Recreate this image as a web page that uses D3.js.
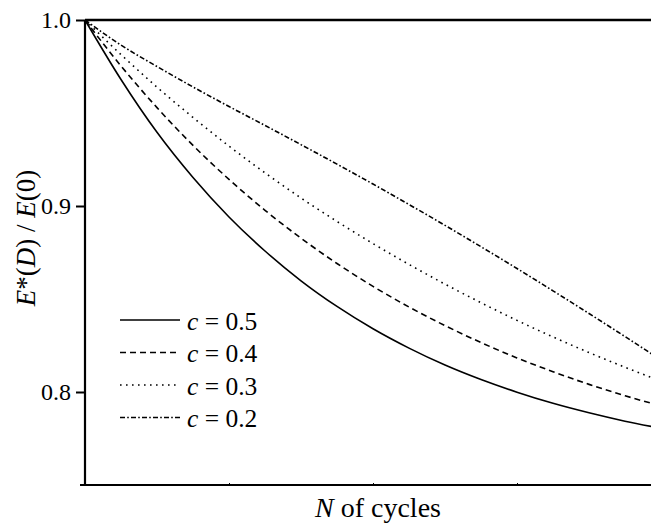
<!DOCTYPE html>
<html><head><meta charset="utf-8">
<script src="https://cdn.jsdelivr.net/npm/d3@7"></script>
<style>
body{margin:0;background:#fff;}
svg{display:block;}
svg text{font-family:"Liberation Serif","Times New Roman",Times,serif !important;fill:#000;}
</style></head>
<body>
<svg id="chart" width="651" height="530"></svg>
<script>
// N (arbitrary units of cycles)
const nValues = [0,0.25,0.5,0.75,1,1.25,1.5,1.75,2,2.25,2.5,2.75,3,3.25,3.5,3.75,4];
const c05 = [1.0,0.968,0.9396,0.9153,0.8941,0.8758,0.8598,0.8460,0.8340,0.8236,0.8145,0.8067,0.7999,0.7939,0.7888,0.7843,0.7805];
const c04 = [1.0,0.9753,0.9529,0.9326,0.9143,0.8977,0.8827,0.8691,0.8568,0.8457,0.8357,0.8266,0.8183,0.8109,0.8041,0.7980,0.7925];
const c03 = [1.0,0.9814,0.9639,0.9476,0.9322,0.9178,0.9043,0.8917,0.8798,0.8686,0.8580,0.8480,0.8385,0.8296,0.8212,0.8133,0.8058];
const c02 = [1.0,0.9865,0.975,0.964,0.9535,0.9433,0.933,0.9225,0.9118,0.9008,0.8896,0.8781,0.8664,0.8544,0.8422,0.8298,0.8172];
const seriesLabels = ["0.5","0.4","0.3","0.2"];
const yTicks = [0.8,0.9,1.0];
const xTicks = [1,2,3];

(function(){
const svg = d3.select("#chart");
const mL = 85, mR = 661, mT = 20, mB = 485;
const x = d3.scaleLinear().domain([0,4]).range([mL,mR]);
const y = d3.scaleLinear().domain([0.75,1.0]).range([mB,mT]);

const seriesData = [c05,c04,c03,c02];
const dashes = [null,"6,4","1.6,4.4","5,2.2,1.6,2.2"];

const line = d3.line().x((d,i)=>x(nValues[i])).y(d=>y(d)).curve(d3.curveMonotoneX);

svg.selectAll("path.series").data(seriesData).enter().append("path")
  .attr("class","series")
  .attr("d",d=>line(d))
  .attr("fill","none").attr("stroke","#000").attr("stroke-width",1.6)
  .attr("stroke-dasharray",(d,i)=>dashes[i]);

// top frame line
svg.append("line").attr("x1",mL).attr("x2",mR).attr("y1",mT).attr("y2",mT)
  .attr("stroke","#000").attr("stroke-width",2.5);

// left axis
const yAxis = d3.axisLeft(y).tickValues(yTicks).tickFormat(d3.format(".1f")).tickSize(9).tickPadding(5);
const gy = svg.append("g").attr("transform",`translate(${mL},0)`).call(yAxis);
gy.attr("font-family",null).attr("font-size",null);
gy.select(".domain").attr("d",`M0,${mT}V${mB}`).attr("stroke-width",2.2);
gy.selectAll(".tick line").attr("stroke-width",2);
gy.selectAll(".tick text").style("font-size","24px");

// bottom axis
const xAxis = d3.axisBottom(x).tickValues(xTicks).tickFormat("").tickSizeInner(-2).tickSizeOuter(0);
const gx = svg.append("g").attr("transform",`translate(0,${mB})`).call(xAxis);
gx.attr("font-family",null);
gx.select(".domain").attr("d",`M${mL-5},0H${mR}`).attr("stroke-width",2.2);
gx.selectAll(".tick line").attr("stroke-width",1);

// legend
const lg = svg.append("g");
seriesLabels.forEach((lab,i)=>{
  const ly = 320 + i*32.5;
  lg.append("line").attr("x1",120).attr("x2",180).attr("y1",ly).attr("y2",ly)
    .attr("stroke","#000").attr("stroke-width",1.4).attr("stroke-dasharray",dashes[i]);
  const t = lg.append("text").attr("x",187).attr("y",ly+9.5).style("font-size","25.5px");
  t.append("tspan").attr("font-style","italic").text("c");
  t.append("tspan").text(" = " + lab);
});

// axis titles
const yl = svg.append("text").attr("transform","translate(35,238) rotate(-90)")
  .attr("text-anchor","middle").style("font-size","27px");
yl.append("tspan").attr("font-style","italic").text("E");
yl.append("tspan").text("*(");
yl.append("tspan").attr("font-style","italic").text("D");
yl.append("tspan").text(") / ");
yl.append("tspan").attr("font-style","italic").text("E");
yl.append("tspan").text("(0)");

const xl = svg.append("text").attr("x",378).attr("y",517).attr("text-anchor","middle").style("font-size","28px");
xl.append("tspan").attr("font-style","italic").text("N");
xl.append("tspan").text(" of cycles");
})();
</script>
</body></html>
